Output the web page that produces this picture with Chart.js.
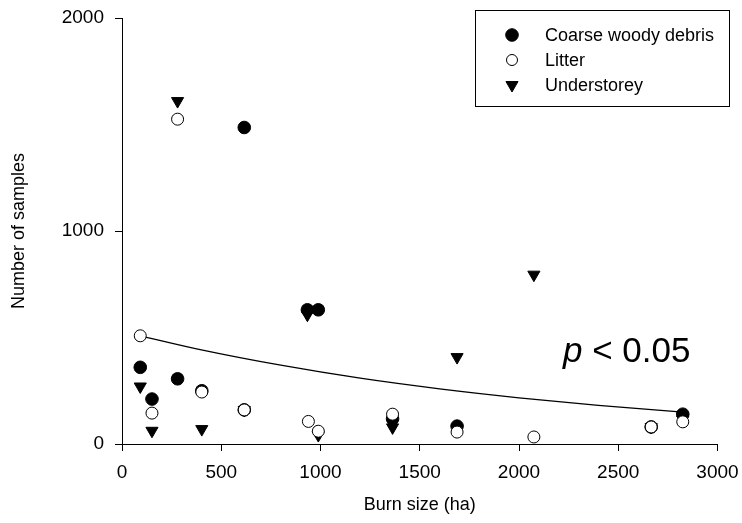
<!DOCTYPE html>
<html>
<head>
<meta charset="utf-8">
<script src="https://cdn.jsdelivr.net/npm/chart.js@4/dist/chart.umd.min.js"></script>
<style>
  body { margin: 0; background: #fff; }
  #wrap { width: 742px; height: 523px; position: relative; }
</style>
</head>
<body>
<div id="wrap"><canvas id="chart"></canvas></div>
<script>
// Datos (tamaño de quema en ha, número de muestras)
const woodyX = [92, 151, 280, 402, 616, 616, 934, 989, 1363, 1688, 2666, 2825];
const woodyY = [360, 211, 306, 250, 1486, 160, 630, 630, 118, 84, 80, 140];
const litterX = [92, 151, 280, 402, 616, 939, 989, 1363, 1688, 2075, 2666, 2825];
const litterY = [508, 145, 1525, 244, 160, 106, 60, 140, 56, 33, 80, 104];
const underX = [92, 151, 280, 402, 616, 934, 989, 1363, 1688, 2075, 2666, 2825];
const underY = [270, 62, 1610, 70, 160, 607, 42, 78, 408, 795, 80, 115];

// Curva ajustada
const fitX = [92, 400, 800, 1200, 1600, 2000, 2400, 2825];
const fitY = [508, 442, 370, 309, 259, 217, 181, 150];

const seriesNames = ['Coarse woody debris', 'Litter', 'Understorey'];
const xTicks = [0, 500, 1000, 1500, 2000, 2500, 3000];
const yTicks = [0, 1000, 2000];
const pLabel = ['p', ' < 0.05'];

const FONT = "'Liberation Sans', Arial, sans-serif";

function toPoints(xs, ys) {
    return xs.map((x, i) => ({ x: x, y: ys[i] }));
}

// Leyenda dentro del área del gráfico
const boxLegend = {
    id: 'boxLegend',
    afterDraw(chart) {
        const ctx = chart.ctx;
        ctx.save();
        ctx.strokeStyle = '#000';
        ctx.lineWidth = 1;
        ctx.strokeRect(475.5, 10.5, 254, 96);
        ctx.font = '18px ' + FONT;
        ctx.textBaseline = 'middle';
        let y = 35;
        chart.data.datasets.forEach(ds => {
            if (!ds.inLegend) return;
            ctx.fillStyle = ds.backgroundColor;
            ctx.strokeStyle = ds.borderColor;
            ctx.lineWidth = ds.borderWidth;
            Chart.helpers.drawPoint(ctx, {
                pointStyle: ds.pointStyle,
                rotation: ds.pointRotation || 0,
                radius: ds.legendRadius,
                borderWidth: ds.borderWidth
            }, 512, y);
            ctx.fillStyle = '#000';
            ctx.fillText(ds.label, 545, y + 1);
            y += 25;
        });
        ctx.restore();
    }
};

// Texto "p < 0.05"
const pText = {
    id: 'pText',
    afterDraw(chart) {
        const ctx = chart.ctx;
        ctx.save();
        ctx.fillStyle = '#000';
        ctx.textBaseline = 'alphabetic';
        ctx.font = 'italic 35px ' + FONT;
        const w1 = ctx.measureText(pLabel[0]).width;
        ctx.fillText(pLabel[0], 563, 362);
        ctx.font = '35px ' + FONT;
        ctx.fillText(pLabel[1], 563 + w1, 362);
        ctx.restore();
    }
};

const ctx = document.getElementById('chart');
new Chart(ctx, {
    type: 'scatter',
    data: {
        datasets: [{
            type: 'line',
            label: 'fit',
            data: toPoints(fitX, fitY),
            borderColor: '#000',
            borderWidth: 1.3,
            pointRadius: 0,
            fill: false,
            cubicInterpolationMode: 'monotone',
            order: 4
        }, {
            label: seriesNames[0],
            data: toPoints(woodyX, woodyY),
            inLegend: true,
            pointStyle: 'circle',
            pointRadius: 6.3,
            legendRadius: 6.3,
            backgroundColor: '#000',
            borderColor: '#000',
            borderWidth: 1,
            order: 2
        }, {
            label: seriesNames[1],
            data: toPoints(litterX, litterY),
            inLegend: true,
            pointStyle: 'circle',
            pointRadius: 6,
            legendRadius: 5.5,
            backgroundColor: '#fff',
            borderColor: '#000',
            borderWidth: 1,
            order: 1
        }, {
            label: seriesNames[2],
            data: toPoints(underX, underY),
            inLegend: true,
            pointStyle: 'triangle',
            pointRotation: 180,
            pointRadius: 7,
            legendRadius: 7,
            backgroundColor: '#000',
            borderColor: '#000',
            borderWidth: 1,
            order: 3
        }]
    },
    options: {
        responsive: true,
        maintainAspectRatio: false,
        animation: false,
        layout: {
            padding: { top: 18, right: 24.5, left: 0, bottom: 0 }
        },
        plugins: {
            legend: { display: false },
            tooltip: { enabled: false }
        },
        scales: {
            x: {
                type: 'linear',
                min: 0,
                max: 3000,
                afterBuildTicks: s => { s.ticks = xTicks.map(v => ({ value: v })); },
                afterFit: s => {
                    s.height = 79;
                    s.paddingLeft = 0;
                    s.paddingRight = 0;
                },
                ticks: {
                    color: '#000',
                    font: { family: FONT, size: 19 },
                    padding: 10,
                    maxRotation: 0,
                    callback: v => String(v)
                },
                grid: {
                    drawOnChartArea: false,
                    drawTicks: true,
                    tickLength: 7,
                    color: '#000'
                },
                border: { color: '#000', width: 1 },
                title: {
                    display: true,
                    text: 'Burn size (ha)',
                    color: '#000',
                    font: { family: FONT, size: 18 },
                    padding: { top: 0, bottom: 7 }
                }
            },
            y: {
                type: 'linear',
                min: 0,
                max: 2000,
                afterBuildTicks: s => { s.ticks = yTicks.map(v => ({ value: v })); },
                afterFit: s => {
                    s.width = 122;
                    s.paddingTop = 0;
                    s.paddingBottom = 0;
                },
                ticks: {
                    color: '#000',
                    font: { family: FONT, size: 19 },
                    padding: 11,
                    callback: v => String(v)
                },
                grid: {
                    drawOnChartArea: false,
                    drawTicks: true,
                    tickLength: 7,
                    color: '#000'
                },
                border: { color: '#000', width: 1 },
                title: {
                    display: true,
                    text: 'Number of samples',
                    color: '#000',
                    font: { family: FONT, size: 18 },
                    padding: { top: 8, bottom: 0 }
                }
            }
        }
    },
    plugins: [boxLegend, pText]
});
</script>
</body>
</html>
